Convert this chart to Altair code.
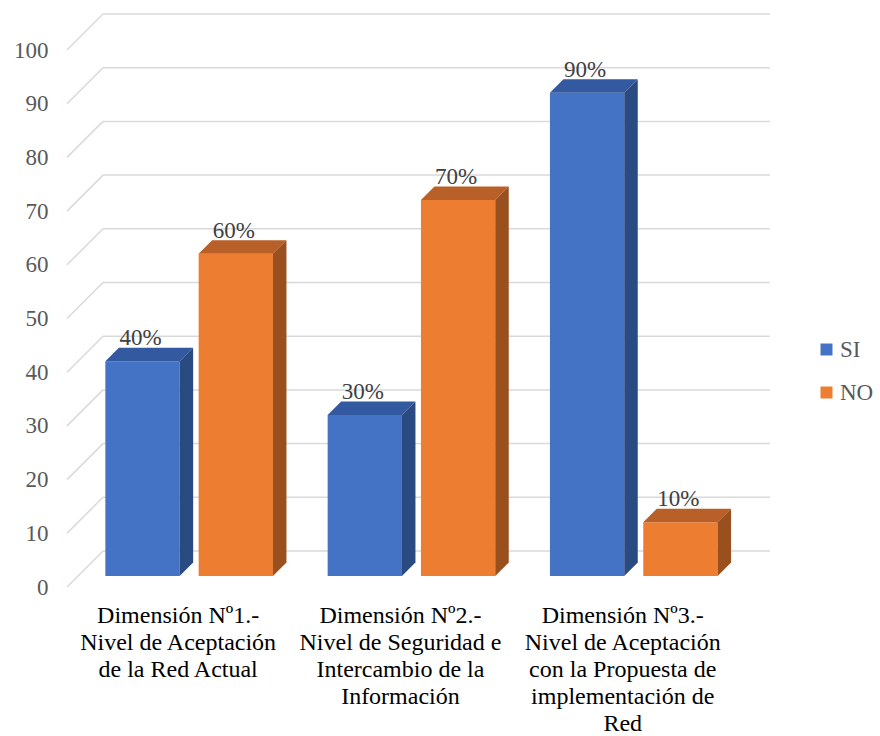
import altair as alt
import pandas as pd

# ---- data -----------------------------------------------------------------
categories = [
    "Dimensión Nº1.-\nNivel de Aceptación\nde la Red Actual",
    "Dimensión Nº2.-\nNivel de Seguridad e\nIntercambio de la\nInformación",
    "Dimensión Nº3.-\nNivel de Aceptación\ncon la Propuesta de\nimplementación de\nRed",
]
series = ["SI", "NO"]
si_values = [40, 30, 90]
no_values = [60, 70, 10]
y_ticks = [0, 10, 20, 30, 40, 50, 60, 70, 80, 90, 100]

# ---- geometry (pixels) ----------------------------------------------------
STEP = 222.3        # width of one category slot
BAR_W = 74.3        # width of a bar's front face
BAR_GAP = 19        # gap between the two bars of a category
WALL = 36           # depth of the back wall behind the axis plane
FRONT = 11          # bar front faces sit this far behind the axis plane
DEPTH = 13.5        # depth of each bar
PX_PER_Y = 5.37
W = STEP * 3 + WALL
H = PX_PER_Y * 100

X_MIN, X_MAX = -0.5, 2.5 + WALL / STEP
DX = DEPTH / STEP          # bar depth in x units
DY = DEPTH / PX_PER_Y      # bar depth in y units

FONT = "Times New Roman, Liberation Serif, serif"
shades = ["SI", "NO", "SI top", "NO top", "SI side", "NO side"]
shade_colors = ["#4472C4", "#ED7D31", "#3359A1", "#B95F28", "#2A4A82", "#9A4F1E"]

# ---- tables ---------------------------------------------------------------
bars, faces = [], []
for i in range(len(categories)):
    for s, vals in zip(series, [si_values, no_values]):
        v = vals[i]
        if s == "SI":
            left = i - (BAR_GAP / 2 + BAR_W) / STEP
        else:
            left = i + (BAR_GAP / 2) / STEP
        right = left + BAR_W / STEP
        bars.append(dict(series=s, left=left, right=right, center=(left + right) / 2,
                         value=v, base=0, label=f"{v}%"))
        # top face: parallelogram traced as a ranged area over x
        for px, lo, hi in [(left, v, v), (left + DX, v, v + DY),
                           (right, v, v + DY), (right + DX, v + DY, v + DY)]:
            faces.append(dict(shade=f"{s} top", face=f"{s}-{i}-top", px=px, lo=lo, hi=hi))
        # side face
        for px, lo, hi in [(right, 0, v), (right + DX, DY, v + DY)]:
            faces.append(dict(shade=f"{s} side", face=f"{s}-{i}-side", px=px, lo=lo, hi=hi))

bars_df = pd.DataFrame(bars)
faces_df = pd.DataFrame(faces)
cats_df = pd.DataFrame({"pos": list(range(len(categories))), "name": categories})
ticks_df = pd.DataFrame({"tick": y_ticks})

xs = alt.Scale(domain=[X_MIN, X_MAX], nice=False, zero=False)
ys = alt.Scale(domain=[0, 100], nice=False, zero=True)
cs = alt.Scale(domain=shades, range=shade_colors)

# one shared y axis definition for every layer: labels only
y_axis = alt.Axis(values=y_ticks, title=None, domain=False, ticks=False, grid=False,
                  labelFont=FONT, labelFontSize=23, labelColor="#595959", labelPadding=19)

# ---- back wall gridlines and left-wall diagonals -------------------------
grid = alt.Chart(ticks_df).mark_rule(
    color="#D9D9D9", strokeWidth=1.5, yOffset=-WALL, y2Offset=-WALL
).encode(
    x=alt.value(WALL),
    x2=alt.value(W),
    y=alt.Y("tick:Q", scale=ys, axis=y_axis),
    y2="tick:Q",
)

diag = alt.Chart(ticks_df).mark_rule(
    color="#D9D9D9", strokeWidth=1.5, y2Offset=-WALL
).encode(
    x=alt.value(0),
    x2=alt.value(WALL),
    y=alt.Y("tick:Q", scale=ys, axis=y_axis),
    y2="tick:Q",
)

# ---- 3D bars: front faces, tops and sides --------------------------------
front = alt.Chart(bars_df).mark_rect(
    xOffset=FRONT, x2Offset=FRONT, yOffset=-FRONT, y2Offset=-FRONT
).encode(
    x=alt.X("left:Q", scale=xs, axis=None),
    x2="right:Q",
    y=alt.Y("base:Q", scale=ys, axis=y_axis),
    y2="value:Q",
    color=alt.Color("series:N", scale=cs,
                    legend=alt.Legend(title=None, orient="none", legendX=748, legendY=288,
                                      values=series,
                                      symbolType="square", symbolSize=144,
                                      symbolStrokeWidth=0, labelFont=FONT,
                                      labelFontSize=23, labelColor="#595959",
                                      labelOffset=2, rowPadding=19)),
)

faces_layer = alt.Chart(faces_df).mark_area(
    xOffset=FRONT, yOffset=-FRONT, y2Offset=-FRONT
).encode(
    x=alt.X("px:Q", scale=xs, axis=None),
    y=alt.Y("lo:Q", scale=ys, stack=None, axis=y_axis),
    y2="hi:Q",
    detail="face:N",
    color=alt.Color("shade:N", scale=cs, legend=None),
)

# ---- texts ----------------------------------------------------------------
value_labels = alt.Chart(bars_df).mark_text(
    font=FONT, fontSize=23, color="#404040", align="center", baseline="alphabetic",
    dx=FRONT - 2, dy=-(FRONT + DEPTH + 2.5)
).encode(
    x=alt.X("center:Q", scale=xs, axis=None),
    y=alt.Y("value:Q", scale=ys, axis=y_axis),
    text="label:N",
)

cat_labels = alt.Chart(cats_df).mark_text(
    font=FONT, fontSize=24, color="#000000", align="center", baseline="alphabetic",
    lineBreak="\n", lineHeight=27.2
).encode(
    x=alt.X("pos:Q", scale=xs, axis=None),
    y=alt.value(H + 35.5),
    text="name:N",
)

chart = alt.layer(grid, diag, front, faces_layer, value_labels, cat_labels).properties(
    width=W, height=H,
    padding={"left": 67, "top": 50, "right": 880 - 67 - W, "bottom": 736 - 50 - H},
    autosize="none",
    background="white",
).configure_view(stroke=None).configure_axis(grid=False)

chart.save("out.html", embed_options={"renderer": "svg", "actions": False})
